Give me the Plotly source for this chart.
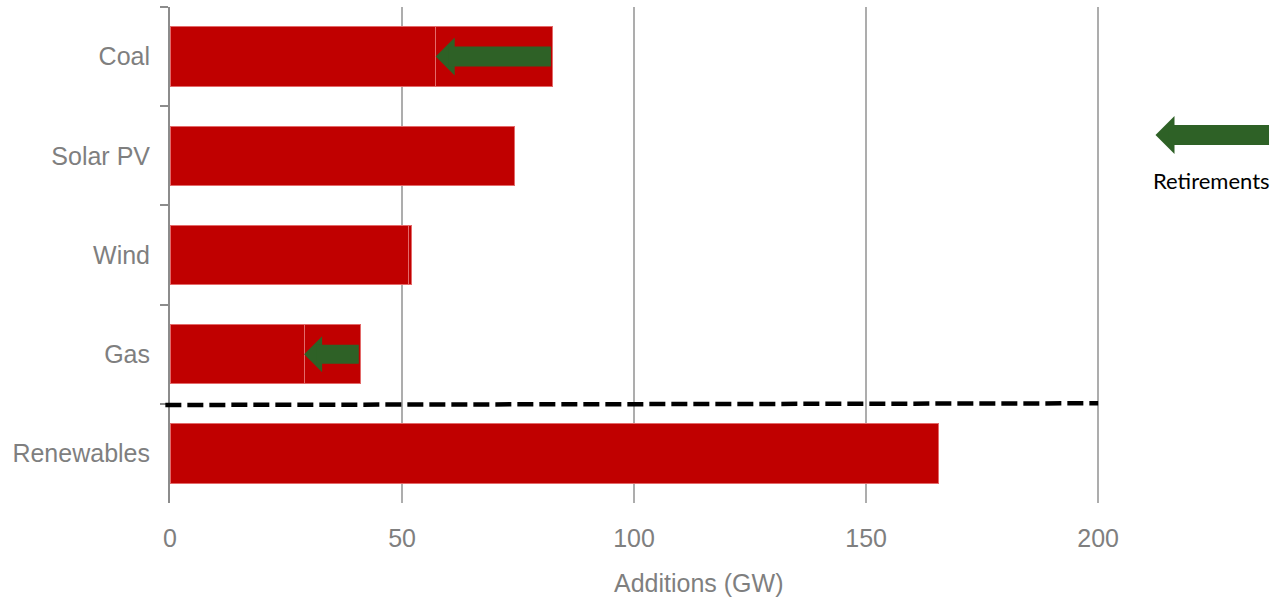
import plotly.graph_objects as go

# ---- data ----
categories = ["Coal", "Solar PV", "Wind", "Gas", "Renewables"]
net_additions = [57.25, 74.3, 51.4, 28.9, 165.7]      # GW, dark part of the bar
retired = [25.15, 0, 0.6, 12.1, 0]                       # GW, part that is retired
x_ticks = [0, 50, 100, 150, 200]
x_title = "Additions (GW)"
legend_label = "Retirements"

RED = "#C00000"
RED_EDGE = "#E36A6A"
GREEN = "#2E6126"
GRAY_TXT = "#7F7F7F"
GRID = "#ADADAD"
AXIS = "#8C8C8C"
FONT = "Liberation Sans Narrow, Arial Narrow, Liberation Sans, Arial, sans-serif"
FSIZE = 25

W, H = 1279, 604
ML, MR, MT, MB = 170, 179, 7, 101
X_RANGE = [0, 200.4]
PLOT_W = W - ML - MR
PX_PER_GW = PLOT_W / (X_RANGE[1] - X_RANGE[0])

fig = go.Figure()
fig.add_trace(go.Bar(
    y=categories, x=net_additions, orientation="h", width=0.6,
    marker=dict(color=RED, line=dict(color=RED_EDGE, width=1)),
    showlegend=False, hoverinfo="x+y",
))
fig.add_trace(go.Bar(
    y=categories, x=[v if v > 0 else None for v in retired], orientation="h", width=0.6,
    marker=dict(color=RED, line=dict(color=RED_EDGE, width=1)),
    showlegend=False, hoverinfo="x+y",
))

annotations = []


def block_arrow(tip, tail, y, xref, yref, shaft_w, head_h, to_units):
    """Block arrow = thin annotation carrying a big head + a thick headless shaft."""
    scale = head_h / 6.0                     # arrowhead 1 is 6 units tall, 3 long
    head_len = 3 * scale
    common = dict(y=y, yref=yref, xref=xref, ay=0, ayref="pixel", text="",
                  showarrow=True, arrowcolor=GREEN, standoff=0, startstandoff=0)
    axref = "x" if xref == "x" else "pixel"
    # head
    head_tail = tip + to_units(head_len) if axref == "x" else head_len
    annotations.append(dict(common, x=tip, ax=head_tail, axref=axref,
                            arrowhead=1, arrowwidth=1, arrowsize=scale))
    # shaft (ends inside the head)
    start = tip + to_units(2 * scale)
    shaft_ax = tail if axref == "x" else (tail - (2 * scale))
    annotations.append(dict(common, x=start, ax=shaft_ax, axref=axref,
                            arrowhead=0, arrowwidth=shaft_w))


# retirement arrows: from the total addition back to the net value
for cat, n, r in zip(categories, net_additions, retired):
    if r >= 5:
        big = r > 20
        block_arrow(n, n + r, cat, "x", "y",
                    shaft_w=20 if big else 19, head_h=38 if big else 36,
                    to_units=lambda px: px / PX_PER_GW)

# legend arrow (paper coords, tail given as pixel offset from the tip)
block_arrow(1.0597, 115, 0.742, "paper", "paper",
            shaft_w=20, head_h=38, to_units=lambda px: px / PLOT_W)
annotations.append(dict(
    x=1.1204, y=0.651, xref="paper", yref="paper",
    text=legend_label, showarrow=False, xanchor="center", yanchor="middle",
    font=dict(family="Lato, Open Sans, sans-serif", size=22, color="#000000"),
))
# x-axis title
annotations.append(dict(
    x=0.568, y=-0.161, xref="paper", yref="paper",
    text=x_title, showarrow=False, xanchor="center", yanchor="middle",
    font=dict(family=FONT, size=FSIZE, color=GRAY_TXT),
))

fig.update_layout(
    width=W, height=H,
    margin=dict(l=ML, r=MR, t=MT, b=MB),
    paper_bgcolor="white", plot_bgcolor="white",
    barmode="stack", bargap=0.4,
    showlegend=False,
    annotations=annotations,
    shapes=[dict(
        type="line", xref="paper", yref="paper",
        x0=-0.005, x1=200 / X_RANGE[1], y0=0.1976, y1=0.201,
        line=dict(color="#000000", width=4.5, dash="16px,6px"),
    )],
    xaxis=dict(
        range=X_RANGE, autorange=False,
        tickvals=x_ticks, ticktext=[str(t) for t in x_ticks],
        showgrid=True, gridcolor=GRID, gridwidth=2,
        zeroline=False, showline=False, ticks="",
        ticklabelstandoff=18, automargin=False,
        tickfont=dict(family=FONT, size=FSIZE, color=GRAY_TXT),
        fixedrange=True,
    ),
    yaxis=dict(
        type="category",
        categoryorder="array", categoryarray=categories,
        range=[len(categories) - 0.5, -0.5], autorange=False,
        showgrid=False, zeroline=False,
        showline=True, linecolor=AXIS, linewidth=2,
        ticks="outside", tickson="boundaries", ticklen=8, tickwidth=2, tickcolor=AXIS,
        ticklabelstandoff=13, automargin=False,
        tickfont=dict(family=FONT, size=FSIZE, color=GRAY_TXT),
        fixedrange=True,
    ),
)

fig.write_html(
    "out.html",
    config={"displayModeBar": False},
    post_script="document.body.style.margin='0';",
)
